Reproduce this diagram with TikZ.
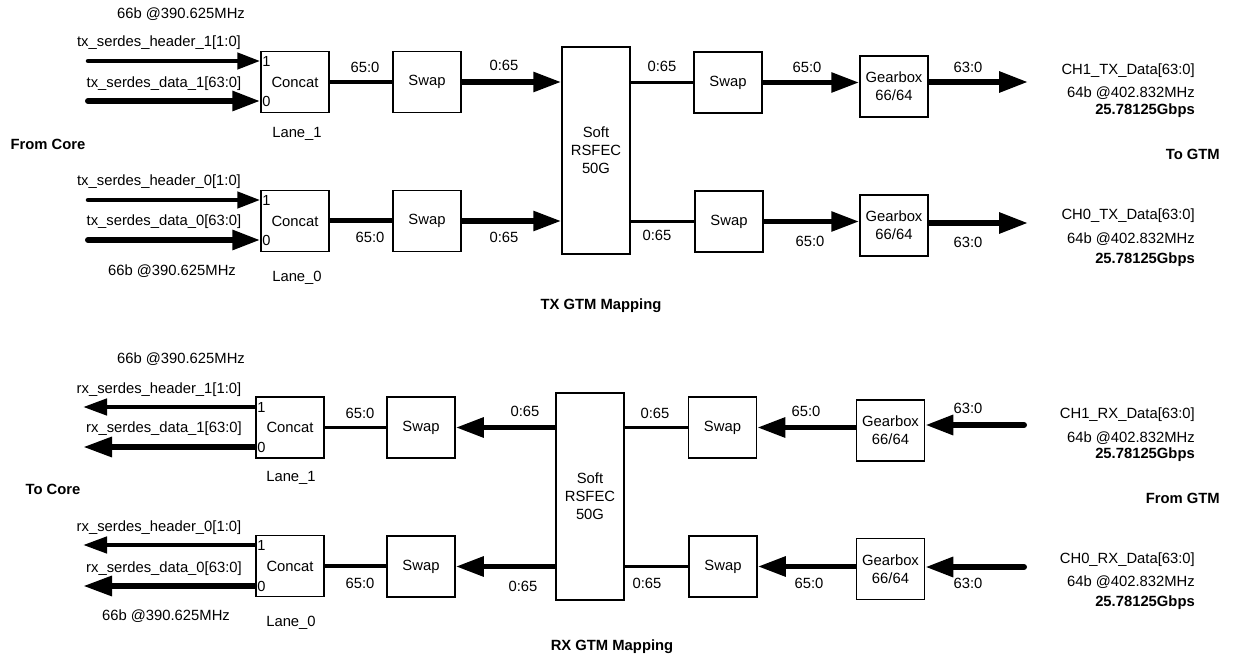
\documentclass[tikz,border=0pt]{standalone}
\usepackage{fontspec}
\setmainfont{Liberation Sans}
\usetikzlibrary{arrows.meta}
\tikzset{
  box/.style={draw, line width=1.5pt, minimum width=68pt, minimum height=61pt, inner sep=0pt, align=center},
  fecbox/.style={box, minimum height=207pt},
  lbl/.style={inner sep=0pt, anchor=center},
  rlbl/.style={inner sep=0pt, anchor=east},
  blbl/.style={inner sep=0pt, font=\fontsize{14.8}{18}\selectfont\bfseries},
  pinlbl/.style={inner sep=0pt, anchor=west, font=\fontsize{14.6}{16}\selectfont},
  hdr/.style={line width=4.5pt, line cap=round, -{Triangle[length=23pt,width=16pt]}},
  dat/.style={line width=6pt, line cap=round, -{Triangle[length=28pt,width=19pt]}},
  hdrR/.style={line width=4.5pt, -{Triangle[length=24pt,width=16pt]}},
  datR/.style={line width=6pt, -{Triangle[length=29pt,width=19pt]}},
  thinl/.style={line width=3.7pt},
  medl/.style={line width=5pt},
  bus/.style={line width=5.7pt, -{Triangle[length=28pt,width=19pt]}},
  outbus/.style={line width=6pt, -{Triangle[length=29pt,width=20pt]}},
}
\begin{document}
\begin{tikzpicture}[x=1pt,y=-1pt, font=\fontsize{14.8}{18}\selectfont]
\useasboundingbox (0,0) rectangle (1235,660);

% ===================== TX =====================
\node[box] (cc1) at (295,82) {Concat};
\node[box] (cc0) at (295,221) {Concat};
\node[box] (sw1) at (427,82) {Swap};
\node[box] (sw0) at (427,221) {Swap};
\node[fecbox] (fec) at (596,150.5) {Soft\\RSFEC\\50G};
\node[box] (sa1) at (728,82.5) {Swap};
\node[box] (sa0) at (729,221.5) {Swap};
\node[box] (gb1) at (894,86.5) {Gearbox\\66/64};
\node[box] (gb0) at (894,225.5) {Gearbox\\66/64};

\coordinate (h1) at (88,61);
\coordinate (d1) at (88,101);
\coordinate (h0) at (88,200);
\coordinate (d0) at (88,240);
\coordinate (o1) at (1028,82);
\coordinate (o0) at (1028,223);

\draw[hdr] (h1) -- (h1 -| cc1.west);
\draw[dat] (d1) -- (d1 -| cc1.west);
\draw[hdr] (h0) -- (h0 -| cc0.west);
\draw[dat] (d0) -- (d0 -| cc0.west);
\draw[thinl] (cc1.east) -- (cc1.east -| sw1.west);
\draw[medl] (cc0.east) -- (cc0.east -| sw0.west);
\draw[bus] (sw1.east) -- (sw1.east -| fec.west);
\draw[bus] (sw0.east) -- (sw0.east -| fec.west);
\draw[thinl] (sa1.west -| fec.east) -- (sa1.west);
\draw[thinl] (sa0.west -| fec.east) -- (sa0.west);
\draw[bus] (sa1.east) -- (sa1.east -| gb1.west);
\draw[bus] (sa0.east) -- (sa0.east -| gb0.west);
\draw[outbus] (gb1.east |- o1) -- (o1);
\draw[outbus] (gb0.east |- o0) -- (o0);

\node[pinlbl] (p11) at ([xshift=2pt]cc1.west |- h1) {1};
\node[pinlbl] (p10) at ([xshift=2pt]cc1.west |- d1) {0};
\node[pinlbl] (p01) at ([xshift=2pt]cc0.west |- h0) {1};
\node[pinlbl] (p00) at ([xshift=2pt]cc0.west |- d0) {0};

\node[lbl] (t66a) at (181,14) {66b @390.625MHz};
\node[lbl] (th1) at (159,43) {tx\_serdes\_header\_1[1:0]};
\node[lbl] (td1) at (164,84) {tx\_serdes\_data\_1[63:0]};
\node[lbl] (tl1) at (297,134) {Lane\_1};
\node[blbl] (tfc) at (48,144) {From Core};
\node[lbl] (th0) at (159,182) {tx\_serdes\_header\_0[1:0]};
\node[lbl] (td0) at (164,222) {tx\_serdes\_data\_0[63:0]};
\node[lbl] (t66b) at (172,271) {66b @390.625MHz};
\node[lbl] (tl0) at (297,278) {Lane\_0};

\node[lbl] (tb1) at (365,67) {65:0};
\node[lbl] (tb2) at (504,65) {0:65};
\node[lbl] (tb3) at (662,66) {0:65};
\node[lbl] (tb4) at (807,67) {65:0};
\node[lbl] (tb5) at (968,67) {63:0};
\node[lbl] (tc1) at (370,237) {65:0};
\node[lbl] (tc2) at (504,237) {0:65};
\node[lbl] (tc3) at (657,235) {0:65};
\node[lbl] (tc4) at (810,241) {65:0};
\node[lbl] (tc5) at (968,242) {63:0};

\node[rlbl] (tch1) at (1195,71) {CH1\_TX\_Data[63:0]};
\node[rlbl] (tch1f) at (1195,93) {64b @402.832MHz};
\node[rlbl,font=\fontsize{14.8}{18}\selectfont\bfseries] (tch1g) at (1195,111) {25.78125Gbps};
\node[blbl,anchor=east] (ttg) at (1220,154) {To GTM};
\node[rlbl] (tch0) at (1195,216) {CH0\_TX\_Data[63:0]};
\node[rlbl] (tch0f) at (1195,239) {64b @402.832MHz};
\node[rlbl,font=\fontsize{14.8}{18}\selectfont\bfseries] (tch0g) at (1195,260) {25.78125Gbps};
\node[blbl] (ttx) at (601,306) {TX GTM Mapping};

% ===================== RX =====================
\node[box] (rc1) at (290,427.5) {Concat};
\node[box] (rc0) at (290,566) {Concat};
\node[box] (rs1) at (421,427.5) {Swap};
\node[box] (rs0) at (421,566.5) {Swap};
\node[fecbox] (rfec) at (590,496.5) {Soft\\RSFEC\\50G};
\node[box] (ra1) at (722.5,427.5) {Swap};
\node[box] (ra0) at (723,566.5) {Swap};
\node[box] (rg1) at (890.5,430.5) {Gearbox\\66/64};
\node[box] (rg0) at (890.5,569) {Gearbox\\66/64};

\coordinate (rh1) at (83,407);
\coordinate (rd1) at (83,447);
\coordinate (rh0) at (83,545);
\coordinate (rd0) at (83,586);
\coordinate (ri1) at (1024,425);
\coordinate (ri0) at (1024,567);

\draw[hdrR] (rh1 -| rc1.west) -- (rh1);
\draw[datR] (rd1 -| rc1.west) -- (rd1);
\draw[hdrR] (rh0 -| rc0.west) -- (rh0);
\draw[datR] (rd0 -| rc0.west) -- (rd0);
\draw[thinl] (rc1.east) -- (rc1.east -| rs1.west);
\draw[thinl] (rc0.east) -- (rc0.east -| rs0.west);
\draw[bus] (rfec.west |- rs1.east) -- (rs1.east);
\draw[bus] (rfec.west |- rs0.east) -- (rs0.east);
\draw[thinl] (ra1.west) -- (ra1.west -| rfec.east);
\draw[thinl] (ra0.west) -- (ra0.west -| rfec.east);
\draw[bus] (rg1.west |- ra1.east) -- (ra1.east);
\draw[bus] (rg0.west |- ra0.east) -- (ra0.east);
\draw[dat] (ri1) -- (ri1 -| rg1.east);
\draw[dat] (ri0) -- (ri0 -| rg0.east);

\node[pinlbl] (q11) at ([xshift=2pt]rc1.west |- rh1) {1};
\node[pinlbl] (q10) at ([xshift=2pt]rc1.west |- rd1) {0};
\node[pinlbl] (q01) at ([xshift=2pt]rc0.west |- rh0) {1};
\node[pinlbl] (q00) at ([xshift=2pt]rc0.west |- rd0) {0};

\node[lbl] (r66a) at (181,359) {66b @390.625MHz};
\node[lbl] (rh1l) at (159,390) {rx\_serdes\_header\_1[1:0]};
\node[lbl] (rd1l) at (164,429) {rx\_serdes\_data\_1[63:0]};
\node[lbl] (rl1) at (291,478) {Lane\_1};
\node[blbl] (rtc) at (53,489) {To Core};
\node[lbl] (rh0l) at (159,528) {rx\_serdes\_header\_0[1:0]};
\node[lbl] (rd0l) at (164,569) {rx\_serdes\_data\_0[63:0]};
\node[lbl] (r66b) at (166,616) {66b @390.625MHz};
\node[lbl] (rl0) at (291,623) {Lane\_0};

\node[lbl] (rb1) at (360,413) {65:0};
\node[lbl] (rb2) at (525,411) {0:65};
\node[lbl] (rb3) at (655,413) {0:65};
\node[lbl] (rb4) at (806,411) {65:0};
\node[lbl] (rb5) at (968,408) {63:0};
\node[lbl] (rc1l) at (360,583) {65:0};
\node[lbl] (rc2l) at (523,586) {0:65};
\node[lbl] (rc3l) at (647,583) {0:65};
\node[lbl] (rc4l) at (809,583) {65:0};
\node[lbl] (rc5l) at (968,583) {63:0};

\node[rlbl] (rch1) at (1195,415) {CH1\_RX\_Data[63:0]};
\node[rlbl] (rch1f) at (1195,438) {64b @402.832MHz};
\node[rlbl,font=\fontsize{14.8}{18}\selectfont\bfseries] (rch1g) at (1195,455) {25.78125Gbps};
\node[blbl,anchor=east] (rfg) at (1220,498) {From GTM};
\node[rlbl] (rch0) at (1195,560) {CH0\_RX\_Data[63:0]};
\node[rlbl] (rch0f) at (1195,582) {64b @402.832MHz};
\node[rlbl,font=\fontsize{14.8}{18}\selectfont\bfseries] (rch0g) at (1195,603) {25.78125Gbps};
\node[blbl] (rrx) at (612,647) {RX GTM Mapping};
\end{tikzpicture}
\end{document}
